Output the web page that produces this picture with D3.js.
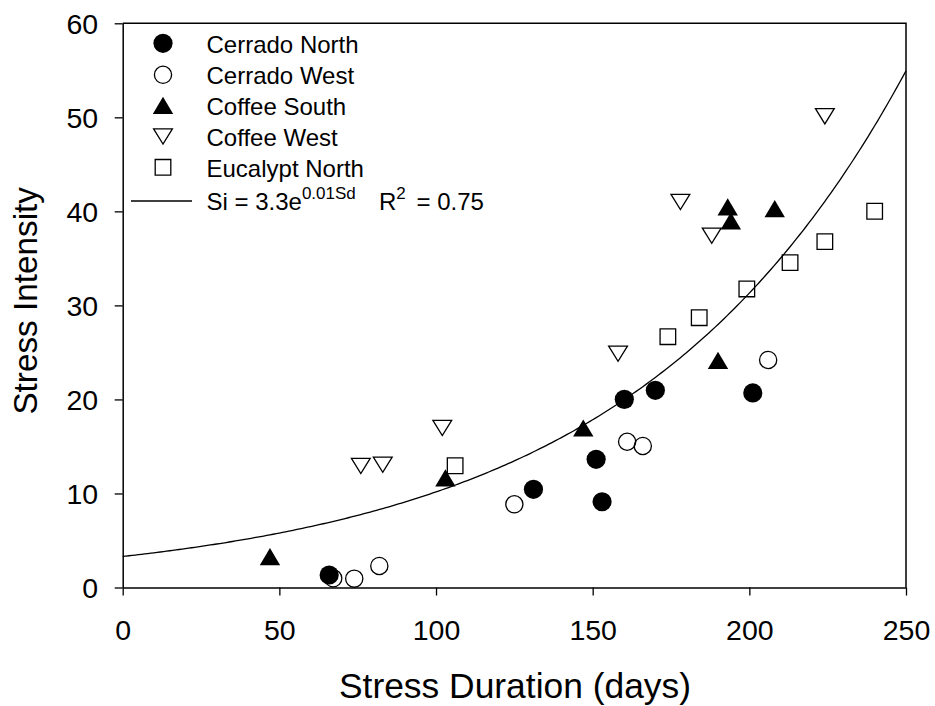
<!DOCTYPE html>
<html>
<head>
<meta charset="utf-8">
<script src="https://cdn.jsdelivr.net/npm/d3@7"></script>
<style>
  html, body { margin: 0; padding: 0; background: #fff; }
  svg { display: block; }
  text { font-family: "Liberation Sans", Arial, sans-serif; fill: #000; }
</style>
</head>
<body>
<svg id="chart" width="935" height="706"></svg>
<script>
// Stress duration (days) and stress intensity for each site
const cerradoNorthX = [65.9, 131.1, 151.1, 153.0, 160.1, 170.0, 201.1];
const cerradoNorthY = [1.33, 10.44, 13.63, 9.12, 20.01, 20.97, 20.69];

const cerradoWestX = [67.2, 73.9, 81.9, 125.0, 161.0, 166.0, 206.0];
const cerradoWestY = [0.98, 0.94, 2.29, 8.85, 15.5, 15.05, 24.2];

const coffeeSouthX = [47.0, 103.0, 147.0, 190.0, 193.1, 194.1, 208.1];
const coffeeSouthY = [3.28, 11.65, 16.96, 24.16, 40.47, 38.98, 40.29];

const coffeeWestX = [76.0, 83.0, 102.0, 158.1, 178.0, 188.0, 224.1];
const coffeeWestY = [12.92, 13.06, 16.96, 24.86, 41.0, 37.41, 50.11];

const eucalyptNorthX = [106.1, 174.0, 184.0, 199.2, 213.0, 224.1, 240.0];
const eucalyptNorthY = [12.95, 26.67, 28.69, 31.75, 34.55, 36.78, 40.01];

const seriesNames = ["Cerrado North", "Cerrado West", "Coffee South", "Coffee West", "Eucalypt North"];

// Exponential fit Si = a * e^(b * Sd)
const fitA = 3.3;
const fitB = 0.01125;

const xTicks = [0, 50, 100, 150, 200, 250];
const yTicks = [0, 10, 20, 30, 40, 50, 60];

const svg = d3.select("#chart");
const plotLeft = 122.7, plotRight = 906, plotTop = 23.3, plotBottom = 587.5;

const x = d3.scaleLinear().domain([0, 250]).range([plotLeft, plotRight]);
const y = d3.scaleLinear().domain([0, 60]).range([plotBottom, plotTop]);

// Marker shapes, centred on (0,0)
const shapes = {
  filledCircle: { d: d3.symbol().type(d3.symbolCircle).size(Math.PI * 9.6 * 9.6)(), fill: "#000", stroke: "none" },
  openCircle: { d: d3.symbol().type(d3.symbolCircle).size(Math.PI * 8.6 * 8.6)(), fill: "none", stroke: "#000" },
  filledTriangle: { d: "M0,-8.6L10.2,8.6L-10.2,8.6Z", fill: "#000", stroke: "none" },
  openTriangleDown: { d: "M-9.4,-7.6L9.4,-7.6L0,7.6Z", fill: "none", stroke: "#000" },
  openSquare: { d: "M-7.8,-7.8H7.8V7.8H-7.8Z", fill: "none", stroke: "#000" }
};

const series = [
  { name: seriesNames[0], xs: cerradoNorthX, ys: cerradoNorthY, shape: shapes.filledCircle },
  { name: seriesNames[1], xs: cerradoWestX, ys: cerradoWestY, shape: shapes.openCircle },
  { name: seriesNames[2], xs: coffeeSouthX, ys: coffeeSouthY, shape: shapes.filledTriangle },
  { name: seriesNames[3], xs: coffeeWestX, ys: coffeeWestY, shape: shapes.openTriangleDown },
  { name: seriesNames[4], xs: eucalyptNorthX, ys: eucalyptNorthY, shape: shapes.openSquare }
];

// Fitted curve
const curveX = d3.range(0, 250.01, 1);
const line = d3.line().x(d => x(d)).y(d => y(fitA * Math.exp(fitB * d)));
svg.append("path")
  .datum(curveX)
  .attr("d", line)
  .attr("fill", "none")
  .attr("stroke", "#000")
  .attr("stroke-width", 1.3);

// Data points
series.forEach(s => {
  svg.append("g").selectAll("path")
    .data(s.xs.map((v, i) => [v, s.ys[i]]))
    .join("path")
    .attr("d", s.shape.d)
    .attr("transform", d => `translate(${x(d[0])},${y(d[1])})`)
    .attr("fill", s.shape.fill)
    .attr("stroke", s.shape.stroke)
    .attr("stroke-width", 1.3);
});

// Axes
const xAxis = svg.append("g")
  .attr("transform", `translate(0,${plotBottom})`)
  .call(d3.axisBottom(x).tickValues(xTicks).tickSize(8).tickSizeOuter(0));
xAxis.selectAll("text")
  .attr("y", 52).attr("dy", null)
  .style("font-size", "28.5px");

const yAxis = svg.append("g")
  .attr("transform", `translate(${plotLeft},0)`)
  .call(d3.axisLeft(y).tickValues(yTicks).tickSize(8).tickSizeOuter(0));
yAxis.selectAll("text")
  .attr("x", -24.5).attr("dy", "0.35em")
  .style("font-size", "28.5px");

[xAxis, yAxis].forEach(g => {
  g.select(".domain").attr("stroke", "#000").attr("stroke-width", 1.5);
  g.selectAll(".tick line").attr("stroke", "#000").attr("stroke-width", 1.3);
  g.attr("font-family", null).attr("font-size", null);
});

// Frame top and right
svg.append("path")
  .attr("d", `M${plotLeft},${plotTop}H${plotRight}V${plotBottom}`)
  .attr("fill", "none")
  .attr("stroke", "#000")
  .attr("stroke-width", 1.5);

// Axis titles
svg.append("text")
  .attr("x", 515).attr("y", 698)
  .attr("text-anchor", "middle")
  .style("font-size", "35.4px")
  .text("Stress Duration (days)");

svg.append("text")
  .attr("transform", "translate(37,300.8) rotate(-90)")
  .attr("text-anchor", "middle")
  .style("font-size", "33.3px")
  .text("Stress Intensity");

// Legend
const legendRows = [43.3, 74.8, 105.3, 136.5, 167.3];
series.forEach((s, i) => {
  svg.append("path")
    .attr("d", s.shape.d)
    .attr("transform", `translate(163,${legendRows[i]})`)
    .attr("fill", s.shape.fill)
    .attr("stroke", s.shape.stroke)
    .attr("stroke-width", 1.3);
  svg.append("text")
    .attr("x", 206.5).attr("y", legendRows[i] + 9.2)
    .style("font-size", "24px")
    .text(s.name);
});

svg.append("line")
  .attr("x1", 131).attr("x2", 192)
  .attr("y1", 201).attr("y2", 201)
  .attr("stroke", "#000").attr("stroke-width", 1.3);

const eq = svg.append("text")
  .attr("x", 206.5).attr("y", 210)
  .style("font-size", "24px");
eq.append("tspan").text(`Si = ${fitA}e`);
eq.append("tspan").attr("dy", -11).style("font-size", "17px").text("0.01Sd");
eq.append("tspan").attr("x", 379).attr("dy", 11).text("R");
eq.append("tspan").attr("dy", -11).style("font-size", "17px").text("2");
eq.append("tspan").attr("x", 416.5).attr("dy", 11).text("= 0.75");
</script>
</body>
</html>
